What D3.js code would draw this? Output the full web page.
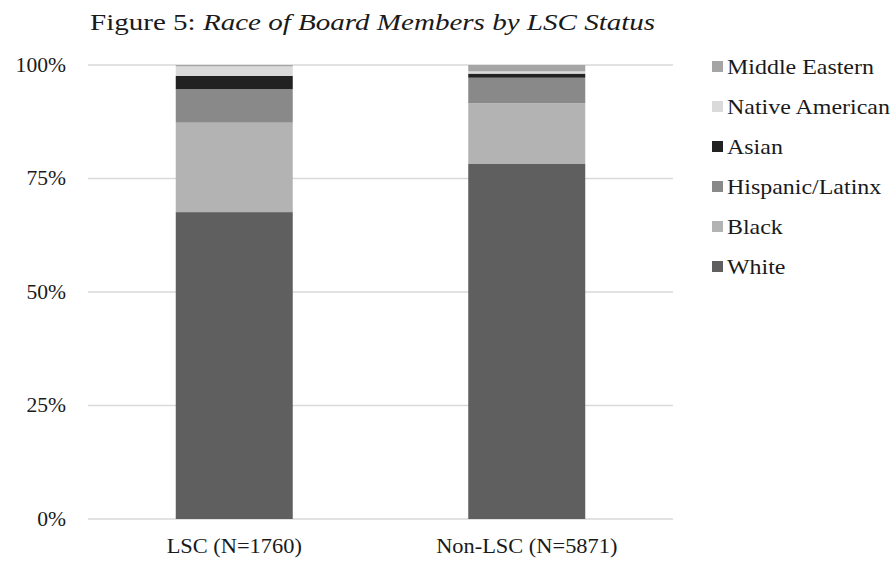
<!DOCTYPE html>
<html>
  <head>
    <meta charset="utf-8">
    <title>Race of Board Members by LSC Status</title>
    <script src="https://cdn.jsdelivr.net/npm/d3@7"></script>
    <style>
        body { margin: 0; background: #fff; }
        svg { display: block; font-family: "Liberation Serif", "Times New Roman", serif; }
    </style>
  </head>
  <body>
    <div id="viz"></div>
    <script>
        // chart data: share of board members by race
        var groups = ["LSC (N=1760)", "Non-LSC (N=5871)"];
        // stack order, bottom to top
        var races = ["White", "Black", "Hispanic/Latinx", "Asian", "Native American", "Middle Eastern"];
        var lscShares = [0.676, 0.197, 0.074, 0.029, 0.021, 0.003];
        var nonLscShares = [0.783, 0.133, 0.056, 0.009, 0.005, 0.014];
        var raceColors = ["#5f5f5f", "#b3b3b3", "#898989", "#222222", "#dadada", "#a5a5a5"];
        var yTicks = [0, 0.25, 0.5, 0.75, 1];

        var width = 894, height = 562;
        var margin = {top: 65, right: 221, bottom: 43, left: 88};

        var svg = d3.select("#viz").append("svg")
            .attr("width", width)
            .attr("height", height);

        var x = d3.scaleBand()
            .domain(groups)
            .range([margin.left, width - margin.right])
            .paddingInner(0.6)
            .paddingOuter(0.3);

        var y = d3.scaleLinear()
            .domain([0, 1])
            .range([height - margin.bottom, margin.top]);

        var color = d3.scaleOrdinal().domain(races).range(raceColors);

        // build rows for d3.stack
        var rows = groups.map(function(g, i) {
            var shares = i == 0 ? lscShares : nonLscShares;
            var row = {group: g};
            races.forEach(function(r, j) { row[r] = shares[j]; });
            return row;
        });
        var series = d3.stack().keys(races)(rows);

        // the reference text is a little wider than plain Times, stretch it
        function widen(sel, k) {
            sel.each(function() {
                var len = this.getComputedTextLength();
                d3.select(this)
                    .attr("textLength", len * k)
                    .attr("lengthAdjust", "spacingAndGlyphs");
            });
        }

        // gridlines
        svg.append("g")
            .selectAll("line")
            .data(yTicks)
            .join("line")
            .attr("x1", margin.left)
            .attr("x2", width - margin.right)
            .attr("y1", function(d) { return y(d); })
            .attr("y2", function(d) { return y(d); })
            .attr("stroke", "#d9d9d9")
            .attr("stroke-width", 1.5);

        // y axis tick labels
        var yAxis = svg.append("g")
            .attr("transform", "translate(" + (margin.left - 22) + ",0)")
            .call(d3.axisLeft(y).tickValues(yTicks).tickFormat(d3.format(".0%")).tickSize(0).tickPadding(0));
        yAxis.select(".domain").remove();
        yAxis.selectAll("text")
            .attr("font-family", "Liberation Serif")
            .attr("font-size", 20)
            .attr("fill", "#1a1a1a")
            .call(widen, 1.08);

        // stacked bars
        svg.append("g")
            .selectAll("g")
            .data(series)
            .join("g")
            .attr("fill", function(d) { return color(d.key); })
            .selectAll("rect")
            .data(function(d) { return d; })
            .join("rect")
            .attr("x", function(d) { return x(d.data.group); })
            .attr("width", x.bandwidth())
            .attr("y", function(d) { return y(d[1]); })
            .attr("height", function(d) { return y(d[0]) - y(d[1]); });

        // x axis category labels
        var xAxis = svg.append("g")
            .attr("transform", "translate(0," + (height - margin.bottom) + ")")
            .call(d3.axisBottom(x).tickSize(0).tickPadding(20));
        xAxis.select(".domain").remove();
        xAxis.selectAll("text")
            .attr("font-family", "Liberation Serif")
            .attr("font-size", 20)
            .attr("fill", "#1a1a1a")
            .call(widen, 1.12);

        // title
        var title = svg.append("text")
            .attr("x", 90)
            .attr("y", 30)
            .attr("font-size", 24)
            .attr("fill", "#1a1a1a");
        title.append("tspan").text("Figure 5: ");
        title.append("tspan").attr("font-style", "italic").text("Race of Board Members by LSC Status");
        widen(title, 1.21);

        // legend, top row is the top of the stack
        var legend = svg.append("g")
            .selectAll("g")
            .data(races.slice().reverse())
            .join("g")
            .attr("transform", function(d, i) { return "translate(712," + (60 + i * 40) + ")"; });
        legend.append("rect")
            .attr("width", 11)
            .attr("height", 11)
            .attr("y", 1)
            .attr("fill", function(d) { return color(d); });
        legend.append("text")
            .attr("x", 15)
            .attr("y", 14)
            .attr("font-size", 21)
            .attr("fill", "#1a1a1a")
            .text(function(d) { return d; })
            .call(widen, 1.14);
    </script>
  </body>
</html>
